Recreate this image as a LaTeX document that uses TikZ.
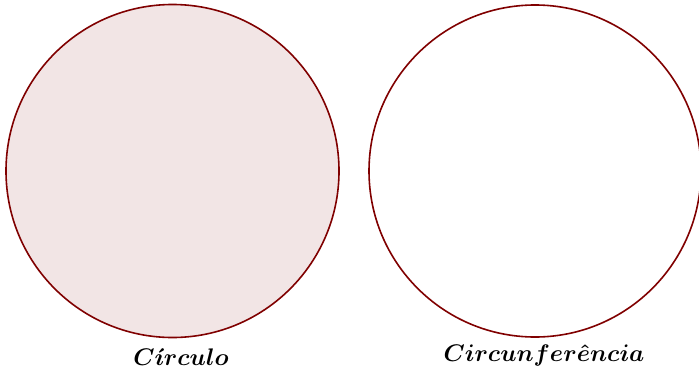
\documentclass[tikz,border=0pt]{standalone}
\usepackage{amsmath,bm}
\definecolor{maroonline}{RGB}{128,0,0}
\begin{document}
\begin{tikzpicture}[x=0.5pt,y=-0.5pt,
  circ/.style={draw=maroonline,line width=0.8pt},
  lbl/.style={inner sep=0pt,font=\large}]
\useasboundingbox (0,0) rectangle (699,369);
\node[circ,fill=maroonline!10,circle,minimum size=333*0.5pt,inner sep=0pt] (c1) at (172.5,171) {};
\node[circ,circle,minimum size=332*0.5pt,inner sep=0pt] (c2) at (535,171) {};
\node[lbl] (l1) at (181,357) {$\bm{C\acute{\imath}rculo}$};
\node[lbl] (l2) at (544,355) {$\bm{Circunfer\hat{e}ncia}$};
\end{tikzpicture}
\end{document}
